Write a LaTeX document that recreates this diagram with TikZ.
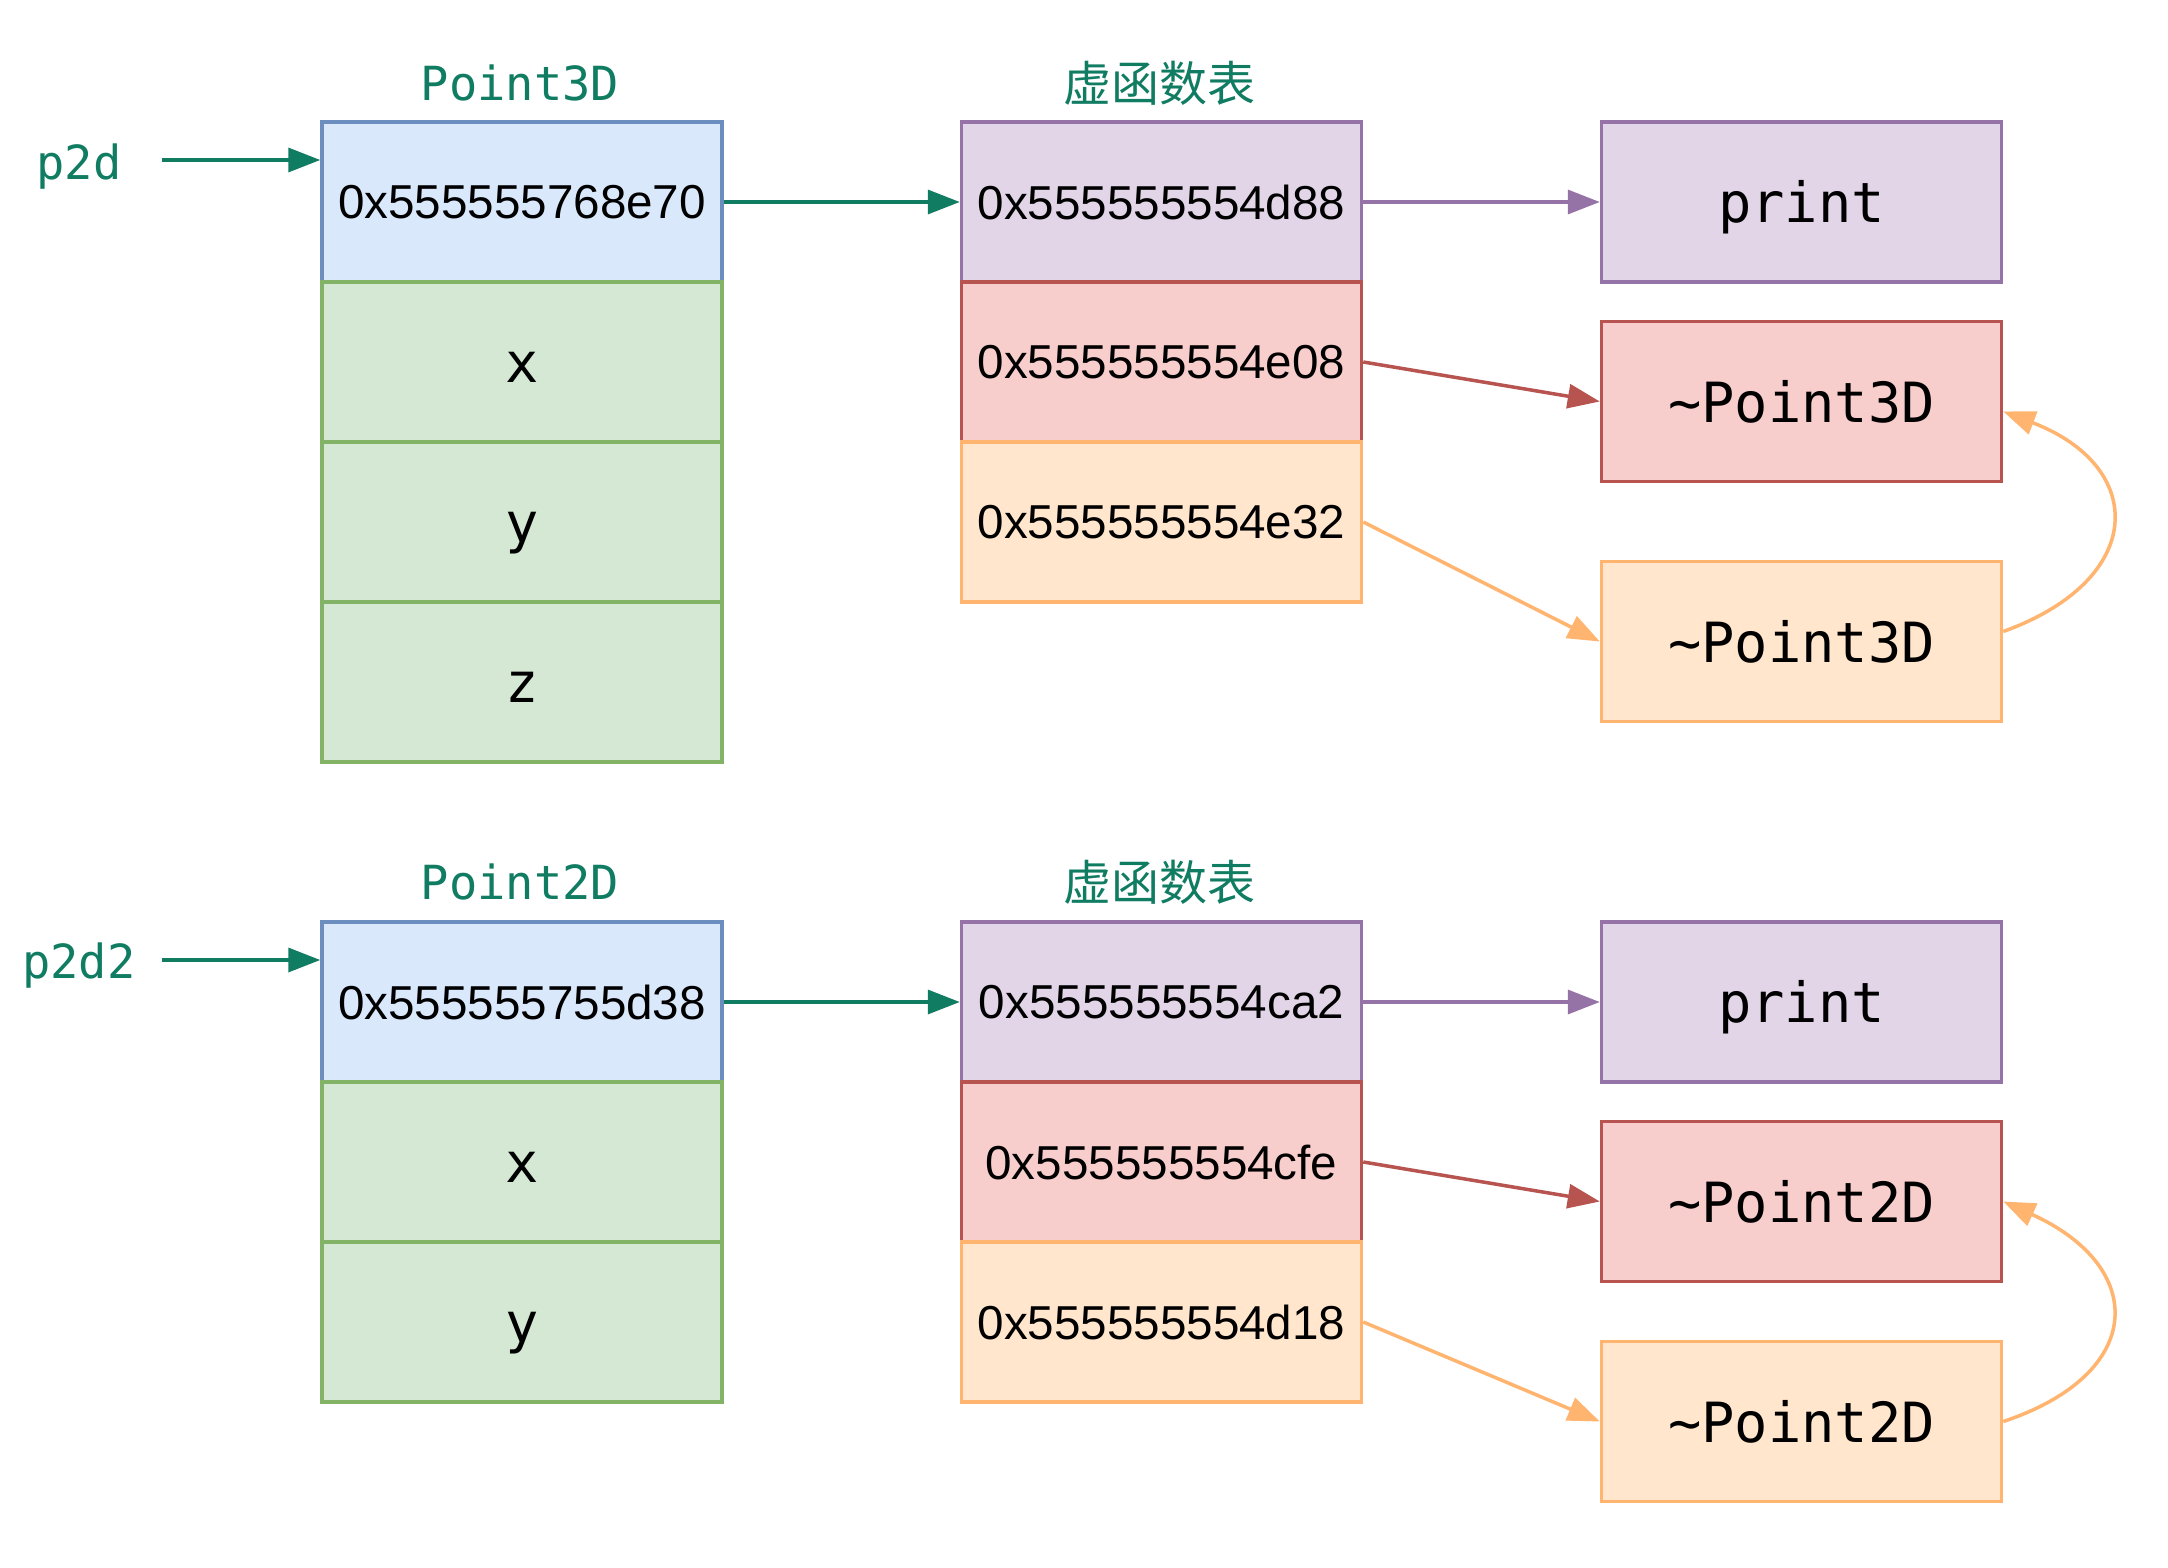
\documentclass[tikz,border=0pt]{standalone}
\usepackage{fontspec}
\setmainfont{Liberation Sans}
\newfontfamily\monofam{DejaVu Sans Mono}
\newfontfamily\cjkfam{Noto Sans CJK SC}
\usetikzlibrary{arrows.meta,calc}
\definecolor{tealtext}{HTML}{107C62}
\definecolor{bluefill}{HTML}{DAE8FC}\definecolor{bluedraw}{HTML}{6C8EBF}
\definecolor{greenfill}{HTML}{D5E8D4}\definecolor{greendraw}{HTML}{82B366}
\definecolor{purplefill}{HTML}{E1D5E7}\definecolor{purpledraw}{HTML}{9673A6}
\definecolor{redfill}{HTML}{F8CECC}\definecolor{reddraw}{HTML}{B85450}
\definecolor{orangefill}{HTML}{FFE6CC}\definecolor{orangedraw}{HTML}{FFB570}
\begin{document}
\begin{tikzpicture}[x=0.5pt,y=-0.5pt,
  cell/.style={draw, line width=1.75pt, minimum width=200pt, minimum height=80pt, inner sep=0pt,
    font=\fontsize{23.8}{28}\selectfont},
  monocell/.style={cell, text height=20.5pt, text depth=0pt,
    font=\monofam\fontsize{27.7}{32}\selectfont},
  bluecell/.style={fill=bluefill, draw=bluedraw},
  greencell/.style={fill=greenfill, draw=greendraw},
  purplecell/.style={fill=purplefill, draw=purpledraw},
  redcell/.style={fill=redfill, draw=reddraw},
  orangecell/.style={fill=orangefill, draw=orangedraw},
  link/.style={line width=1.75pt, -{Triangle[length=16pt,width=12pt]}},
  lbl/.style={text=tealtext, inner sep=0pt, font=\monofam\fontsize{23.5}{28}\selectfont},
  cjklbl/.style={text=tealtext, inner sep=0pt, font=\cjkfam\fontsize{24}{28}\selectfont}
]
\useasboundingbox (0,0) rectangle (2168,1568);
\fill[white] (0,0) rectangle (2168,1568);

% ---------- top group ----------
\node[lbl] (t1) at (520,83) {Point3D};
\node[cjklbl] (t2) at (1159,83) {虚函数表};
\node[lbl] (p1) at (79,167) {p2d};

\node[cell,bluecell] (a1) at (522,202) {0x555555768e70};
\node[monocell,greencell] (a2) at (522,362) {x};
\node[monocell,greencell] (a3) at (522,522) {y};
\node[monocell,greencell] (a4) at (522,682) {z};

\node[cell,purplecell] (v1) at (1161.5,202) {0x555555554d88};
\node[cell,redcell] (v2) at (1161.5,362) {0x555555554e08};
\node[cell,orangecell] (v3) at (1161.5,522) {0x555555554e32};

\node[monocell,purplecell] (f1) at (1801.5,202) {print};
\node[monocell,redcell] (f2) at (1801.5,401.5) {\textasciitilde Point3D};
\node[monocell,orangecell] (f3) at (1801.5,641.5) {\textasciitilde Point3D};

\coordinate (p1s) at (162,160);
\draw[link,tealtext] (p1s) -- (p1s -| a1.west);
\draw[link,tealtext] (a1.east) -- (v1.west);
\draw[link,purpledraw] (v1.east) -- (f1.west);
\draw[link,reddraw] (v2.east) -- (f2.west);
\draw[link,orangedraw] (v3.east) -- (f3.west);
\draw[link,orangedraw] ([yshift=5pt]f3.east) .. controls +(144,-52) and +(144,55) .. ([yshift=-5pt]f2.east);

% ---------- bottom group ----------
\node[lbl] (t3) at (520,882) {Point2D};
\node[cjklbl] (t4) at (1159,882) {虚函数表};
\node[lbl] (p2) at (79,966) {p2d2};

\node[cell,bluecell] (b1) at (522,1002) {0x555555755d38};
\node[monocell,greencell] (b2) at (522,1162) {x};
\node[monocell,greencell] (b3) at (522,1322) {y};

\node[cell,purplecell] (w1) at (1161.5,1002) {0x555555554ca2};
\node[cell,redcell] (w2) at (1161.5,1162) {0x555555554cfe};
\node[cell,orangecell] (w3) at (1161.5,1322) {0x555555554d18};

\node[monocell,purplecell] (g1) at (1801.5,1002) {print};
\node[monocell,redcell] (g2) at (1801.5,1201.5) {\textasciitilde Point2D};
\node[monocell,orangecell] (g3) at (1801.5,1421.5) {\textasciitilde Point2D};

\coordinate (p2s) at (162,960);
\draw[link,tealtext] (p2s) -- (p2s -| b1.west);
\draw[link,tealtext] (b1.east) -- (w1.west);
\draw[link,purpledraw] (w1.east) -- (g1.west);
\draw[link,reddraw] (w2.east) -- (g2.west);
\draw[link,orangedraw] (w3.east) -- (g3.west);
\draw[link,orangedraw] (g3.east) .. controls +(144,-48) and +(144,65) .. (g2.east);
\end{tikzpicture}
\end{document}
